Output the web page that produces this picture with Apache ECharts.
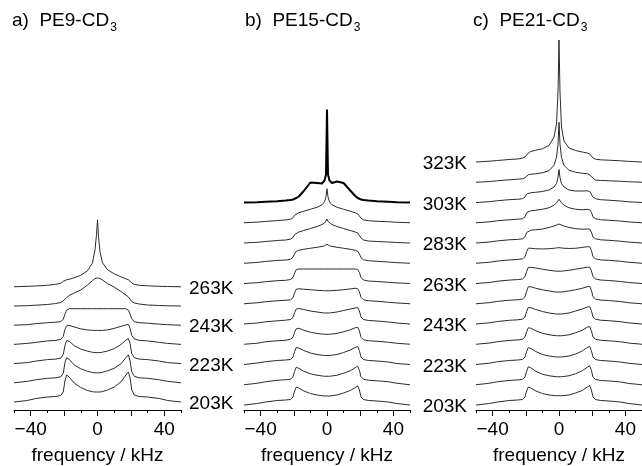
<!DOCTYPE html>
<html><head><meta charset="utf-8">
<script src="https://cdn.jsdelivr.net/npm/echarts@6/dist/echarts.min.js"></script>
<style>html,body{margin:0;padding:0;background:#fff}#c{width:642px;height:466px}</style>
</head><body><div id="c"></div>
<script>
// shared frequency grid (kHz)
const FREQ = [-50,-42,-37,-30,-25,-22,-20.5,-19.5,-18.5,-17,-14,-10,-6,-3,-1.5,-0.6,0,0.6,1.5,3,6,10,14,17,18.5,19.5,20.5,22,25,30,37,42,50];

// panel a) PE9-CD3, temperatures bottom -> top
const PE9_TEMPS = [203,213,223,233,243,253,263];
const PE9 = [
 [0,1.5,3.5,5,5.5,6.5,10,21,27,25,19,14.5,11.5,10.3,10,10,10,10,10,10.5,12,15,20,27,30,24,12,7,5.5,5,3.5,1.5,0],
 [0,1.5,3,4.5,5,6,9.5,20,25,23.5,18,14,11.5,10.3,10,10,10,10,10,10.5,12,14.5,19,25,28,22,11,6.5,5,4.5,3,1.5,0],
 [0,1,2.5,4,4.5,5.5,9,18,23,22.5,18,14.5,12.5,11.3,11,11,11,11,11,11.5,12.5,15,19,23.5,25,20,10,6,4.5,4,2.5,1,0],
 [0,1,2,3.5,4,5,8,15,18.5,19,17.5,15.5,14.5,14,14,14,14,14,14,14,14.5,16,18,19.5,20,16,9,5.5,4,3.5,2,1,0],
 [0,0.5,1.5,2.5,3,3.5,6,11,15,16.5,16.5,16.5,16.5,16.5,16.5,16.5,16.5,16.5,16.5,16.5,16.5,16.5,16.5,16.5,15,11,6.5,3.5,2.5,2,1,0.5,0],
 [0,0.3,0.8,1.5,2.5,3.5,5,7,8.5,10.5,13,16,21,25.5,27.5,28,28,28,27.5,26,22.5,19,14.5,11,9,7,4.5,3,2,1,0.5,0.2,0],
 [0,0.5,0.8,1.5,2.5,3.5,5.5,6.5,7,7.5,9,11.5,16,24,37,52,67,50,35,24,17,13,10,8,7,5.5,4,2.5,1.5,1,0.5,0.3,0]
];

// panel b) PE15-CD3
const PE15_TEMPS = [203,213,223,233,243,253,263,273,283,293,303];
const PE15 = [
 [0,1.5,3,4.5,5,5.5,8,14,18,17,14,11.5,10,9.3,9,9,9,9,9,9.3,10,12,14.5,17.5,19,15,8,5.5,4.5,4,3,1.5,0],
 [0,1.5,3,4.5,5,5.5,8,13.5,17.5,16.5,13.5,11,9.5,8.8,8.5,8.5,8.5,8.5,8.5,8.8,9.5,11.5,14,17,18.5,14.5,8,5.5,4.5,4,3,1.5,0],
 [0,1.5,2.8,4,4.5,5,7.5,13,17,16.5,14,11.5,10,9.3,9,9,9,9,9,9.3,10,12,14.5,17,18,14,7.5,5,4,3.5,2.5,1,0],
 [0,1,2.5,3.5,4,5,7,12,15.5,16,14,12,10.8,10.2,10,10,10,10,10,10.2,10.8,12.5,14.5,16.5,17,13.5,7,4.5,3.5,3,2,1,0],
 [0,1,2.2,3.2,3.8,4.5,6.5,11.5,15,15.5,14.5,13,12,11.3,11,11,11,11,11,11.3,12,13.5,15,16,16.5,13,7,4.5,3.5,3,2,1,0],
 [0,1,2,3,3.5,4,6,11,14.5,15,14.5,14,13.5,13.2,13,13,13,13,13,13.2,13.5,14,14.8,15.5,15,12,6.5,4,3,2.5,1.5,0.8,0],
 [0,0.8,1.8,2.8,3.2,4,6,10.5,14,14.5,14.5,14.5,14.5,14.5,14.5,14.5,14.5,14.5,14.5,14.5,14.5,14.5,14.5,14.5,14,11,6,3.5,2.5,2,1.2,0.6,0],
 [0,0.8,1.8,2.8,3.2,4,6,9.5,12,13,14,15,16,16.8,17.5,18.2,19,18.2,17.5,16.8,16,15,14,13,12,9.5,5.5,3.5,2.5,2,1.2,0.6,0],
 [0,0.7,1.5,2.5,3,3.8,5.5,8.5,10,11,12.5,14.5,16.5,18.5,20,21.5,24,21.5,20,18.5,16.5,14.5,12.5,11,10,8,5,3,2,1.5,1,0.5,0],
 [0,0.6,1.3,2.2,2.8,3.5,5,7.5,9,10,11.5,13.5,15.5,18,21,26,34,26,21,18,15.5,13.5,11.5,10,9,7,4.5,2.8,2,1.5,1,0.5,0],
 [0,0.3,0.8,1.2,2,2.5,3,3.5,4.5,6,11.5,20,19.5,19,22,28,93,28,22,19.5,21,19.5,12,6.5,4.5,3.5,3,2.5,2,1.2,0.8,0.3,0]
];

// panel c) PE21-CD3
const PE21_TEMPS = [203,213,223,233,243,253,263,273,283,293,303,313,323];
const PE21 = [
 [0,1.5,3,4.5,5,5.5,8,14,18,17,14,11.5,10,9.5,9.3,9.3,9.3,9.3,9.3,9.5,10,12,14.5,18,19.5,15,8,5.5,4.5,4,3,1.5,0],
 [0,1.5,3,4.3,4.8,5.3,7.8,13.5,18,17,13.5,10.5,9,8.3,8,8,8,8,8,8.3,9,11,14,17.5,19,14.5,7.5,5.3,4.3,3.8,2.8,1.3,0],
 [0,1.3,2.8,4,4.5,5,7.5,13,16.8,16,13,10,8.5,7.8,7.5,7.5,7.5,7.5,7.5,7.8,8.5,10.5,13.5,17,18,14,7.5,5,4,3.5,2.5,1.2,0],
 [0,1.2,2.6,3.8,4.3,5,7.3,12.5,16.5,16,13.5,11,9.5,8.8,8.5,8.5,8.5,8.5,8.5,8.8,9.5,11.5,14,17,17.7,13.5,7.3,5,4,3.5,2.5,1.2,0],
 [0,1.2,2.5,3.7,4.2,4.8,7,12.5,16.5,16.3,14.5,12.5,11,10.3,10,10,10,10,10,10.3,11,13,15,17,17.3,13.5,7,4.8,3.8,3.3,2.3,1.1,0],
 [0,1.1,2.4,3.5,4,4.7,7,12.5,17,17,15.5,14,12.8,12,11.7,11.7,11.7,11.7,11.7,12,12.8,14,15.5,17,17.5,13.5,7,4.7,3.7,3.2,2.2,1,0],
 [0,1,2.3,3.4,3.9,4.5,6.8,12,16,16.2,15.5,14.3,13.2,12.6,12.3,12.3,12.3,12.3,12.3,12.6,13.2,14.3,15.5,16.2,16.3,12.8,6.8,4.5,3.5,3,2,1,0],
 [0,1,2.2,3.3,3.8,4.4,6.5,11.5,15,15,14.5,14.3,14.5,15,15.3,15.5,15.6,15.5,15.3,15,14.8,15,15.8,16.5,16.5,12.8,6.5,4.4,3.4,2.9,2,1,0],
 [0,1,2.1,3.2,3.6,4.2,6.2,10.5,12.5,12.8,13.2,14,15.5,17,18,18.6,19,18.6,18,17,15.5,14.3,13.8,14,13.8,11,6,4.2,3.2,2.7,1.8,0.9,0],
 [0,0.9,2,3,3.5,4,6,10,11.7,12,12.5,13.5,15,17.5,20,22,23.5,22,20,17.5,15,13.5,13,13.3,13,10.5,5.8,4,3,2.5,1.7,0.8,0],
 [0,0.8,1.8,2.8,3.2,3.8,5.5,8.5,9.5,9.8,10.2,11,12.5,15.5,19,25,33,25,19,15.5,12.5,11.5,11.5,11.7,11,9,5.3,3.8,2.8,2.3,1.5,0.7,0],
 [0,0.7,1.5,2.5,3,3.5,4.5,6.5,7.5,8,8.5,9.5,11.5,17,25,38,60,38,25,17,12,10,9,8.5,7.5,6.5,4,2.2,1.8,1.5,1,0.5,0],
 [0,0.8,1.5,2.5,3,3.8,5,7,9,10.5,11.8,13.3,16.5,25,38,70,122,70,35,21,14,11.5,10,9,8,6,4,2.8,2.2,1.8,1.2,0.6,0]
];

// axis ticks / labels
const TICK_LABELS = [-40, 0, 40];
const MAJOR_TICKS = [-40, -20, 0, 20, 40];
// temperature labels
const LABELS_A = [203, 223, 243, 263];
const LABELS_BC = [203, 223, 243, 263, 283, 303, 323];
const TITLES = [['a)  PE9-CD', '3'], ['b)  PE15-CD', '3'], ['c)  PE21-CD', '3']];
const XNAME = 'frequency / kHz';

const FONT = '"Liberation Sans", Arial, Helvetica, sans-serif';
const LINE = '#2b2b2b';
const panels = [
  {data: PE9,  temps: PE9_TEMPS,  left: 14,  width: 167, ymin: -8, step: 19.2},
  {data: PE15, temps: PE15_TEMPS, left: 244, width: 166, ymin: -5, step: 20.25},
  {data: PE21, temps: PE21_TEMPS, left: 476, width: 166, ymin: -5, step: 20.25}
];

const fmt = v => v < 0 ? '\u2212' + Math.abs(v) : String(v);
const grid = [], xAxis = [], yAxis = [], series = [];
panels.forEach((p, g) => {
  grid.push({left: p.left, width: p.width, top: 10, height: 400, containLabel: false, outerBoundsMode: 'none'});
  // main axis: line, minor ticks every 10, labels
  xAxis.push({
    gridIndex: g, type: 'value', min: -50, max: 50, interval: 10, position: 'bottom',
    axisLine: {show: true, onZero: false, lineStyle: {color: '#000', width: 1}},
    axisTick: {show: true, length: 3, lineStyle: {color: '#000', width: 1}},
    axisLabel: {show: true, customValues: TICK_LABELS, formatter: fmt, fontSize: 19, fontFamily: FONT, color: '#000', margin: 10},
    splitLine: {show: false},
    name: XNAME, nameLocation: 'middle', nameGap: 36,
    nameTextStyle: {fontSize: 19, fontFamily: FONT, color: '#000'}
  });
  // companion axis: longer major ticks
  xAxis.push({
    gridIndex: g, type: 'value', min: -50, max: 50, interval: 10, position: 'bottom', offset: 0,
    axisLine: {show: false, onZero: false},
    axisTick: {show: true, customValues: MAJOR_TICKS, length: 6, lineStyle: {color: '#000', width: 1}},
    axisLabel: {show: false}, splitLine: {show: false}
  });
  yAxis.push({gridIndex: g, type: 'value', min: p.ymin, max: p.ymin + 400, show: false});
  p.data.forEach((vals, k) => {
    const off = k * p.step;
    const top = (g === 1 && k === p.data.length - 1);
    series.push({
      type: 'line', xAxisIndex: 2 * g, yAxisIndex: g, silent: true,
      showSymbol: false, symbol: 'none', animation: false,
      lineStyle: {color: top ? '#000' : LINE, width: top ? 2 : 1},
      data: FREQ.map((f, i) => [f, off + vals[i]]),
      z: 2 + k
    });
  });
});

const chart = echarts.init(document.getElementById('c'), null, {renderer: 'canvas'});
chart.setOption({animation: false, grid, xAxis, yAxis, series});

// titles and temperature labels as graphic text
const ctx = document.createElement('canvas').getContext('2d');
ctx.font = '19px ' + FONT;
const titleX = [12, 245, 473];
const graphic = [];
TITLES.forEach((t, i) => {
  const w = ctx.measureText(t[0]).width;
  graphic.push({type: 'text', x: titleX[i], y: 21, style: {text: t[0], font: '19px ' + FONT, fill: '#000', verticalAlign: 'middle'}});
  graphic.push({type: 'text', x: titleX[i] + w + 1, y: 28, style: {text: t[1], font: '12px ' + FONT, fill: '#000', verticalAlign: 'middle'}});
});
LABELS_A.forEach(T => {
  const k = PE9_TEMPS.indexOf(T);
  const y = chart.convertToPixel({yAxisIndex: 0}, k * panels[0].step) + 2;
  graphic.push({type: 'text', x: 189, y: y, style: {text: T + 'K', font: '19px ' + FONT, fill: '#000', verticalAlign: 'middle', align: 'left'}});
});
LABELS_BC.forEach(T => {
  const k = PE21_TEMPS.indexOf(T);
  const y = chart.convertToPixel({yAxisIndex: 2}, k * panels[2].step) + 2;
  graphic.push({type: 'text', x: 467, y: y, style: {text: T + 'K', font: '19px ' + FONT, fill: '#000', verticalAlign: 'middle', align: 'right'}});
});
chart.setOption({graphic});
</script></body></html>
